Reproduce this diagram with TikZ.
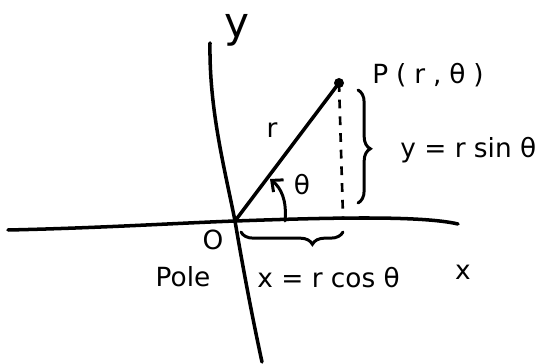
\documentclass[tikz,border=0pt]{standalone}
\usepackage{fontspec}
\newfontfamily\handfont{DejaVu Sans}
\newfontfamily\handwide[LetterSpace=30]{DejaVu Sans}
\usetikzlibrary{arrows.meta,decorations.pathreplacing,positioning}

\begin{document}
\begin{tikzpicture}[x=0.02cm, y=-0.02cm,
    axis/.style={line width=2pt, line cap=round},
    lbl/.style={font=\handfont\fontsize{15}{18}\selectfont, inner sep=0pt},
    curly/.style={line width=1.7pt, line cap=round, decorate,
                  decoration={brace, amplitude=7pt}}
  ]
    \useasboundingbox (0,0) rectangle (551,364);
    % pole, point and its foot on the axis
    \coordinate (O) at (235,221);
    \coordinate (P) at (339,83);
    \coordinate (F) at (343,217);
    \coordinate (xl) at (8,230);
    \coordinate (xr) at (458,224);
    \coordinate (yt) at (210,43);
    \coordinate (yb) at (262,362);

    % axes
    \draw[axis] (xl) .. controls (100,228) and (180,223) .. (O)
                     .. controls (320,218) and (420,215) .. (xr);
    \draw[axis] (yt) .. controls (209,110) and (225,170) .. (O)
                     .. controls (245,280) and (255,330) .. (yb);

    % radius, projection and angle
    \draw[axis] (O) -- (P);
    \fill (P) circle[radius=5];
    \draw[line width=1.5pt, dash pattern=on 5pt off 4.5pt] (P) -- (F);
    \coordinate (a1) at (285,221);
    \coordinate (a2) at (270,179);
    \draw[axis, line width=1.7pt, -{Straight Barb[length=5pt,width=9pt]}]
      (a1) .. controls (287,200) and (281,188) .. (a2);

    % braces
    \coordinate (bx1) at (343,232);
    \coordinate (bx2) at (241,232);
    \coordinate (by1) at (358,90);
    \coordinate (by2) at (358,203);
    \draw[curly, decoration={aspect=0.3}] (bx1) -- (bx2);
    \draw[curly, decoration={aspect=0.52}] (by1) -- (by2);

    % labels
    \node[lbl, font=\handfont\fontsize{24}{28}\selectfont] (ylab) at (237,30) {y};
    \node[lbl, font=\handwide\fontsize{15}{18}\selectfont, anchor=west] (Plab) at (372,75) {P(r,θ)};
    \node[lbl] (rlab) at (272,130) {r};
    \node[lbl] (thlab) at (302,185) {θ};
    \node[lbl] (Olab) at (213,240) {O};
    \node[lbl] (polelab) at (183,277) {Pole};
    \node[lbl, anchor=west] (xeq) at (257,278) {x = r cos θ};
    \node[lbl] (xlab) at (463,272) {x};
    \node[lbl, anchor=west] (yeq) at (400,150) {y = r sin θ};
\end{tikzpicture}
\end{document}
